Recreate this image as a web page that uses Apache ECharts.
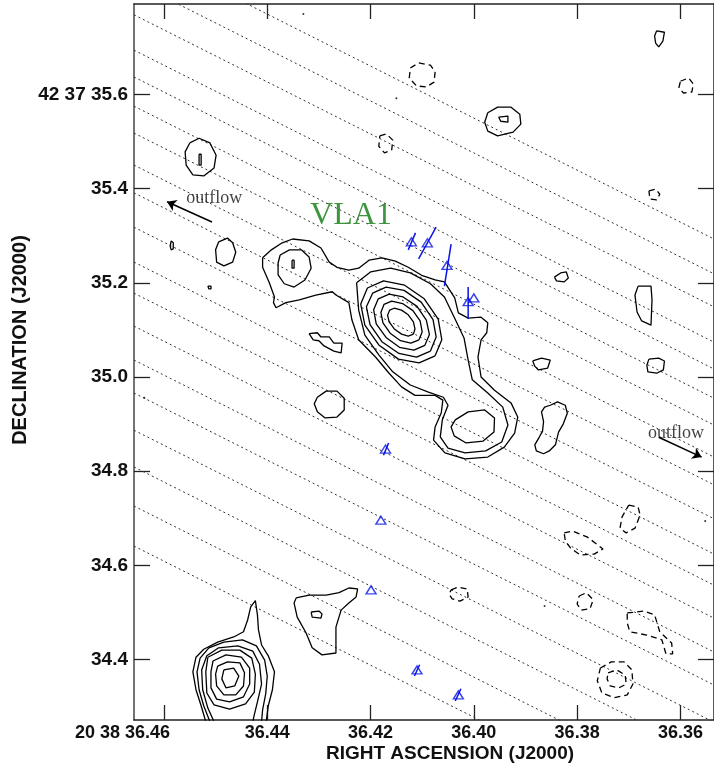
<!DOCTYPE html>
<html>
<head>
<meta charset="utf-8">
<script src="https://cdn.jsdelivr.net/npm/echarts@6/dist/echarts.min.js"></script>
<style>
  html, body { margin: 0; padding: 0; background: #fff; }
  #main { width: 714px; height: 767px; }
</style>
</head>
<body>
<div id="main"></div>
<script>
// axis extent (RA seconds of 20h38m, Dec arcsec of +42d37m)
var raMin = 36.3535, raMax = 36.4658
var decMin = 34.2717, decMax = 35.792
var raTicks = [36.36, 36.38, 36.40, 36.42, 36.44, 36.46]
var decTicks = [34.4, 34.6, 34.8, 35.0, 35.2, 35.4, 35.6]

// dotted parallel lines: Dec where each crosses the left and right edge
var stripeDecLeft = [35.913, 35.839, 35.769, 35.694, 35.637, 35.575, 35.518, 35.450, 35.391, 35.318,
  35.244, 35.178, 35.108, 35.036, 34.966, 34.887, 34.809, 34.726, 34.641]
var stripeDecRight = [35.293, 35.219, 35.149, 35.074, 35.017, 34.955, 34.898, 34.830, 34.771, 34.699,
  34.624, 34.558, 34.488, 34.416, 34.346, 34.267, 34.189, 34.106, 34.021]

// VLA1 contours (solid, positive levels)
var vlaOuter = [[36.4409,35.253],[36.4392,35.270],[36.4371,35.285],[36.4351,35.293],[36.4319,35.289],[36.4296,35.274],
  [36.4280,35.244],[36.4265,35.233],[36.4242,35.227],[36.4223,35.231],[36.4203,35.248],[36.4178,35.253],[36.4152,35.246],
  [36.4127,35.233],[36.4101,35.216],[36.4075,35.206],[36.4057,35.202],[36.4037,35.168],[36.4030,35.136],[36.4011,35.125],
  [36.3986,35.127],[36.3973,35.115],[36.3975,35.094],[36.3986,35.079],[36.3992,35.042],[36.3986,35.000],[36.3960,34.972],
  [36.3928,34.945],[36.3915,34.915],[36.3921,34.881],[36.3941,34.851],[36.3973,34.830],[36.4017,34.826],[36.4056,34.839],
  [36.4078,34.866],[36.4075,34.894],[36.4063,34.924],[36.4060,34.951],[36.4075,34.961],[36.4114,34.961],[36.4140,34.979],
  [36.4165,35.009],[36.4190,35.042],[36.4223,35.079],[36.4236,35.121],[36.4242,35.158],[36.4267,35.174],[36.4274,35.181],
  [36.4306,35.174],[36.4338,35.164],[36.4364,35.158],[36.4383,35.147],[36.4388,35.158],[36.4386,35.170],[36.4396,35.200],
  [36.4409,35.233]]
var vlaEnvelope = [[36.4227,35.200],[36.4200,35.223],[36.4161,35.231],[36.4123,35.221],[36.4084,35.198],[36.4057,35.170],
  [36.4038,35.127],[36.4019,35.083],[36.4011,35.036],[36.4003,34.994],[36.3973,34.966],[36.3944,34.936],[36.3934,34.898],
  [36.3946,34.862],[36.3977,34.843],[36.4017,34.839],[36.4050,34.849],[36.4065,34.873],[36.4061,34.909],[36.4050,34.940],
  [36.4059,34.957],[36.4088,34.968],[36.4123,34.983],[36.4157,35.011],[36.4184,35.047],[36.4211,35.089],[36.4223,35.142]]
var vlaRing5 = [[36.4075,35.045],[36.4106,35.030],[36.4146,35.038],[36.4184,35.068],[36.4211,35.110],[36.4219,35.155],
  [36.4206,35.189],[36.4175,35.204],[36.4134,35.195],[36.4096,35.166],[36.4069,35.123],[36.4062,35.079]]
var vlaRing4 = [[36.4084,35.055],[36.4111,35.042],[36.4145,35.050],[36.4178,35.075],[36.4201,35.111],[36.4208,35.149],
  [36.4196,35.178],[36.4170,35.191],[36.4135,35.184],[36.4102,35.159],[36.4079,35.122],[36.4073,35.085]]
var vlaRing3 = [[36.4095,35.067],[36.4116,35.057],[36.4144,35.063],[36.4170,35.084],[36.4189,35.113],[36.4194,35.143],
  [36.4185,35.166],[36.4164,35.176],[36.4137,35.170],[36.4110,35.150],[36.4092,35.121],[36.4086,35.090]]
var vlaRing2 = [[36.4106,35.079],[36.4122,35.072],[36.4142,35.077],[36.4162,35.093],[36.4176,35.115],[36.4180,35.137],
  [36.4174,35.154],[36.4159,35.161],[36.4138,35.156],[36.4118,35.141],[36.4104,35.119],[36.4100,35.096]]
var vlaPeak = [[36.4117,35.091],[36.4127,35.087],[36.4140,35.091],[36.4154,35.102],[36.4164,35.117],[36.4167,35.131],
  [36.4163,35.142],[36.4154,35.146],[36.4140,35.142],[36.4127,35.132],[36.4117,35.117],[36.4114,35.102]]
var vlaSouthPeak = [[36.4036,34.909],[36.4011,34.926],[36.3979,34.930],[36.3960,34.913],[36.3961,34.883],[36.3982,34.864],
  [36.4015,34.860],[36.4038,34.875],[36.4044,34.894]]
var vlaWestKnot = [[36.4375,35.259],[36.4357,35.270],[36.4334,35.270],[36.4319,35.255],[36.4315,35.231],[36.4327,35.206],
  [36.4348,35.191],[36.4367,35.198],[36.4379,35.217],[36.4379,35.242]]
var vlaWestCore = [[36.4352,35.248],[36.4348,35.248],[36.4348,35.231],[36.4352,35.231]]

// south-east source at the bottom left (outer rings open at the map edge)
var srcOuter = [[36.4519,34.268],[36.4528,34.302],[36.4538,34.336],[36.4544,34.374],[36.4538,34.405],[36.4523,34.422],
  [36.4496,34.437],[36.4465,34.448],[36.4446,34.459],[36.4438,34.484],[36.4432,34.512],[36.4423,34.525],[36.4419,34.495],
  [36.4417,34.463],[36.4411,34.431],[36.4398,34.408],[36.4386,34.374],[36.4390,34.336],[36.4398,34.302],[36.4402,34.268]]
var srcRing6 = [[36.4511,34.268],[36.4523,34.302],[36.4532,34.336],[36.4536,34.374],[36.4530,34.403],[36.4513,34.425],
  [36.4484,34.437],[36.4448,34.442],[36.4421,34.429],[36.4405,34.399],[36.4400,34.365],[36.4403,34.327],[36.4409,34.293],
  [36.4411,34.268]]
var srcRing5 = [[36.4503,34.268],[36.4515,34.297],[36.4525,34.336],[36.4527,34.378],[36.4517,34.408],[36.4494,34.425],
  [36.4457,34.429],[36.4428,34.418],[36.4415,34.390],[36.4411,34.348],[36.4419,34.310],[36.4425,34.283],[36.4428,34.268]]
var srcRing4 = [[36.4515,34.405],[36.4488,34.420],[36.4453,34.420],[36.4430,34.403],[36.4423,34.369],[36.4425,34.331],
  [36.4442,34.306],[36.4473,34.295],[36.4503,34.304],[36.4517,34.329],[36.4519,34.374]]
var srcRing3 = [[36.4505,34.397],[36.4480,34.410],[36.4450,34.405],[36.4434,34.382],[36.4434,34.348],[36.4446,34.321],
  [36.4473,34.310],[36.4498,34.316],[36.4509,34.340],[36.4509,34.374]]
var srcRing2 = [[36.4496,34.386],[36.4477,34.395],[36.4453,34.393],[36.4444,34.372],[36.4446,34.344],[36.4461,34.325],
  [36.4484,34.325],[36.4498,34.344],[36.4500,34.369]]
var srcRing1 = [[36.4484,34.378],[36.4465,34.382],[36.4455,34.365],[36.4463,34.344],[36.4480,34.340],[36.4488,34.359]]

// small positive blobs
var blobA = [[36.4550,35.497],[36.4532,35.507],[36.4511,35.497],[36.4499,35.471],[36.4503,35.444],[36.4523,35.427],
  [36.4544,35.429],[36.4557,35.450],[36.4559,35.478]]
var blobAcore = [[36.4532,35.473],[36.4528,35.473],[36.4528,35.450],[36.4532,35.450]]
var blobB = [[36.3973,35.561],[36.3954,35.573],[36.3928,35.573],[36.3911,35.558],[36.3909,35.537],[36.3924,35.520],
  [36.3954,35.512],[36.3973,35.522],[36.3979,35.541]]
var blobBcore = [[36.3952,35.552],[36.3934,35.554],[36.3934,35.541],[36.3948,35.543]]
var blobC = [[36.4494,35.287],[36.4477,35.295],[36.4467,35.285],[36.4461,35.265],[36.4467,35.244],[36.4484,35.236],
  [36.4498,35.244],[36.4500,35.270]]
var blobD = [[36.4586,35.289],[36.4582,35.285],[36.4582,35.272],[36.4586,35.270],[36.4588,35.278]]
var blobE = [[36.4515,35.193],[36.4509,35.193],[36.4509,35.187],[36.4513,35.187]]
var blobF = [[36.4319,35.092],[36.4303,35.094],[36.4296,35.085],[36.4280,35.085],[36.4271,35.072],[36.4255,35.072],
  [36.4257,35.051],[36.4271,35.055],[36.4290,35.066],[36.4300,35.077],[36.4311,35.079]]
var blobG = [[36.4303,34.957],[36.4286,34.970],[36.4265,34.970],[36.4251,34.955],[36.4251,34.930],[36.4265,34.915],
  [36.4288,34.913],[36.4303,34.926],[36.4309,34.943]]
var blobH = [[36.3844,35.212],[36.3832,35.221],[36.3821,35.223],[36.3817,35.210],[36.3825,35.202],[36.3840,35.204]]
var blobI = [[36.3682,35.193],[36.3657,35.193],[36.3655,35.164],[36.3657,35.110],[36.3675,35.119],[36.3684,35.138],
  [36.3688,35.174]]
var blobJ = [[36.3886,35.034],[36.3869,35.040],[36.3852,35.036],[36.3857,35.019],[36.3875,35.015],[36.3882,35.023]]
var blobK = [[36.3661,35.038],[36.3642,35.040],[36.3631,35.034],[36.3633,35.015],[36.3646,35.008],[36.3663,35.011],
  [36.3665,35.025]]
var blobL = [[36.3852,34.940],[36.3838,34.947],[36.3823,34.940],[36.3819,34.923],[36.3827,34.900],[36.3836,34.883],
  [36.3842,34.856],[36.3854,34.843],[36.3865,34.837],[36.3879,34.843],[36.3882,34.856],[36.3873,34.873],[36.3867,34.885],
  [36.3865,34.905],[36.3869,34.926],[36.3863,34.936]]
var blobM = [[36.3646,35.735],[36.3631,35.732],[36.3634,35.713],[36.3642,35.701],[36.3648,35.709],[36.3650,35.724]]
var blobN = [[36.4344,34.531],[36.4319,34.537],[36.4286,34.537],[36.4261,34.542],[36.4242,34.552],[36.4225,34.550],
  [36.4228,34.533],[36.4242,34.520],[36.4257,34.505],[36.4267,34.469],[36.4267,34.414],[36.4294,34.410],[36.4313,34.425],
  [36.4325,34.457],[36.4342,34.490],[36.4348,34.520]]
var blobNcore = [[36.4315,34.501],[36.4300,34.503],[36.4294,34.497],[36.4296,34.488],[36.4313,34.490]]

// negative contours (dashed)
var negA = [[36.4123,35.656],[36.4107,35.667],[36.4084,35.662],[36.4075,35.648],[36.4077,35.626],[36.4092,35.616],
  [36.4111,35.618],[36.4125,35.635]]
var negB = [[36.4182,35.512],[36.4169,35.516],[36.4157,35.503],[36.4159,35.482],[36.4173,35.476],[36.4184,35.490]]
var negC = [[36.3600,35.628],[36.3584,35.635],[36.3575,35.622],[36.3578,35.605],[36.3594,35.603],[36.3603,35.614]]
var negD = [[36.3661,35.395],[36.3648,35.399],[36.3640,35.388],[36.3646,35.376],[36.3659,35.378]]
var negE = [[36.3700,34.728],[36.3682,34.724],[36.3678,34.707],[36.3688,34.679],[36.3705,34.669],[36.3717,34.679],
  [36.3713,34.703]]
var negF = [[36.3825,34.669],[36.3809,34.673],[36.3780,34.660],[36.3750,34.635],[36.3767,34.624],[36.3794,34.622],
  [36.3813,34.637],[36.3823,34.652]]
var negG = [[36.4044,34.548],[36.4030,34.554],[36.4013,34.550],[36.4011,34.533],[36.4027,34.524],[36.4042,34.529],
  [36.4048,34.539]]
var negH = [[36.3796,34.535],[36.3782,34.542],[36.3769,34.527],[36.3775,34.508],[36.3792,34.505],[36.3800,34.518]]
var negI = [[36.3703,34.499],[36.3671,34.503],[36.3650,34.495],[36.3640,34.459],[36.3617,34.435],[36.3615,34.412],
  [36.3628,34.412],[36.3636,34.442],[36.3665,34.452],[36.3698,34.459],[36.3703,34.478]]
var negJ = [[36.3755,34.382],[36.3734,34.395],[36.3709,34.395],[36.3694,34.378],[36.3692,34.348],[36.3703,34.325],
  [36.3728,34.319],[36.3752,34.329],[36.3761,34.355]]
var negJinner = [[36.3740,34.372],[36.3723,34.378],[36.3707,34.367],[36.3705,34.348],[36.3719,34.340],[36.3736,34.344],
  [36.3742,34.359]]

var specks = [[36.4330,35.771],[36.4150,35.592],[36.3863,34.514],[36.4638,34.956],[36.3552,34.694]]

// maser spots and their short position-angle bars
var maserSpots = [[36.4121,35.287],[36.4090,35.285],[36.4052,35.237],[36.4011,35.160],[36.4000,35.168],
  [36.4171,34.847],[36.4180,34.696],[36.4199,34.548],[36.4110,34.378],[36.4030,34.325]]
var maserBars = [
  [[36.4127,35.270],[36.4113,35.306]],
  [[36.4107,35.251],[36.4073,35.318]],
  [[36.4057,35.193],[36.4044,35.282]],
  [[36.4011,35.191],[36.4011,35.123]],
  [[36.4175,34.834],[36.4165,34.860]],
  [[36.4115,34.365],[36.4105,34.389]],
  [[36.4036,34.312],[36.4025,34.338]]
]

// outflow arrows (tail, head) and text anchors
var outflowArrows = [
  [[36.4507,35.329],[36.4594,35.372]],
  [[36.3642,34.872],[36.3559,34.830]]
]
var outflowLabels = [[36.4557,35.398],[36.3663,34.899]]
var vlaLabel = [36.4317, 35.376]

var solidClosed = [vlaOuter, vlaEnvelope, vlaRing5, vlaRing4, vlaRing3, vlaRing2, vlaPeak, vlaSouthPeak,
  vlaWestKnot, vlaWestCore, srcRing4, srcRing3, srcRing2, srcRing1,
  blobA, blobAcore, blobB, blobBcore, blobC, blobD, blobE, blobF, blobG, blobH, blobI, blobJ, blobK, blobL, blobM,
  blobN, blobNcore]
var solidOpen = [srcOuter, srcRing6, srcRing5]
var dashedClosed = [negA, negB, negC, negD, negE, negF, negG, negH, negI, negJ, negJinner]

var myChart = echarts.init(document.getElementById('main'))
var series = []

function lineOf(data, style, z) {
  return {
    type: 'line', data: data, symbol: 'none', silent: true, animation: false,
    lineStyle: style, z: z, clip: true
  }
}

stripeDecLeft.forEach(function (d, i) {
  series.push(lineOf([[raMax, d], [raMin, stripeDecRight[i]]], {color: '#333', width: 1, type: [2, 3]}, 1))
})
solidClosed.forEach(function (c) {
  series.push(lineOf(c.concat([c[0]]), {color: '#000', width: 1.3}, 3))
})
solidOpen.forEach(function (c) {
  series.push(lineOf(c, {color: '#000', width: 1.3}, 3))
})
dashedClosed.forEach(function (c) {
  series.push(lineOf(c.concat([c[0]]), {color: '#000', width: 1.3, type: [6, 4]}, 3))
})
maserBars.forEach(function (b) {
  series.push(lineOf(b, {color: '#0a14e6', width: 1.5}, 4))
})
series.push({
  type: 'scatter', data: maserSpots, symbol: 'triangle', symbolSize: [10, 8], silent: true, animation: false, z: 5,
  itemStyle: {color: 'rgba(0,0,0,0)', borderColor: '#0a14e6', borderWidth: 1.4}
})
series.push({
  type: 'scatter', data: specks, symbol: 'circle', symbolSize: 2, silent: true, animation: false, z: 3,
  itemStyle: {color: '#000'}
})
series.push({
  type: 'lines', coordinateSystem: 'cartesian2d', silent: true, animation: false, z: 5,
  symbol: ['none', 'arrow'], symbolSize: 9,
  lineStyle: {color: '#000', width: 1.5, opacity: 1},
  data: outflowArrows.map(function (a) { return {coords: a} })
})
series.push({
  type: 'scatter', data: outflowLabels, symbolSize: 0, silent: true, animation: false, z: 6,
  label: {show: true, position: [0, 0], align: 'left', verticalAlign: 'top', formatter: 'outflow',
    fontFamily: 'Liberation Serif', fontSize: 18, color: '#111'}
})
series.push({
  type: 'scatter', data: [vlaLabel], symbolSize: 0, silent: true, animation: false, z: 6,
  label: {show: true, position: [0, 0], align: 'left', verticalAlign: 'top', formatter: 'VLA1',
    fontFamily: 'Liberation Serif', fontSize: 32, color: '#0c7a0c'}
})

var xLabelFont = {fontFamily: 'Liberation Sans', fontWeight: 'bold', fontSize: 18, color: '#111'}
var yLabelFont = {fontFamily: 'Liberation Sans', fontWeight: 'bold', fontSize: 19, color: '#111'}

var option = {
  backgroundColor: '#fff',
  animation: false,
  grid: {left: 134, right: -4, top: 4, bottom: 47},
  graphic: [
    {type: 'text', x: 450, y: 754, silent: true,
      style: {text: 'RIGHT ASCENSION (J2000)', x: 0, y: 0, align: 'center', verticalAlign: 'middle',
        font: 'bold 19px "Liberation Sans"', fill: '#111'}},
    {type: 'text', x: 20, y: 340, rotation: Math.PI / 2, silent: true,
      style: {text: 'DECLINATION (J2000)', x: 0, y: 0, align: 'center', verticalAlign: 'middle',
        font: 'bold 20px "Liberation Sans"', fill: '#111'}}
  ],
  xAxis: [{
    type: 'value', inverse: true, min: raMin, max: raMax, position: 'bottom',
    axisLine: {show: true, onZero: false, lineStyle: {color: '#222', width: 1.5}},
    axisTick: {show: true, inside: true, length: 15, customValues: raTicks, lineStyle: {color: '#222', width: 1.3}},
    splitLine: {show: false},
    axisLabel: Object.assign({
      margin: 4, customValues: raTicks,
      formatter: function (v) {
        if (Math.abs(v - 36.46) < 1e-6) return '{first|20 38 36.46}'
        return v.toFixed(2)
      },
      rich: {first: Object.assign({width: 178, align: 'left'}, xLabelFont)}
    }, xLabelFont)
  }, {
    type: 'value', inverse: true, min: raMin, max: raMax, position: 'top',
    axisLine: {show: true, onZero: false, lineStyle: {color: '#222', width: 1.5}},
    axisTick: {show: true, inside: true, length: 15, customValues: raTicks, lineStyle: {color: '#222', width: 1.3}},
    axisLabel: {show: false}, splitLine: {show: false}
  }],
  yAxis: [{
    type: 'value', min: decMin, max: decMax, position: 'left',
    axisLine: {show: true, onZero: false, lineStyle: {color: '#444', width: 1.5}},
    axisTick: {show: true, inside: true, length: 16, customValues: decTicks, lineStyle: {color: '#222', width: 1.3}},
    splitLine: {show: false},
    axisLabel: Object.assign({
      margin: 6, customValues: decTicks,
      formatter: function (v) {
        if (Math.abs(v - 35.6) < 1e-6) return '42 37 35.6'
        return v.toFixed(1)
      }
    }, yLabelFont)
  }, {
    type: 'value', min: decMin, max: decMax, position: 'right',
    axisLine: {show: true, onZero: false, lineStyle: {color: '#222', width: 1.5}},
    axisTick: {show: true, inside: true, length: 16, customValues: decTicks, lineStyle: {color: '#222', width: 1.3}},
    axisLabel: {show: false}, splitLine: {show: false}
  }],
  series: series
}
myChart.setOption(option)
</script>
</body>
</html>
